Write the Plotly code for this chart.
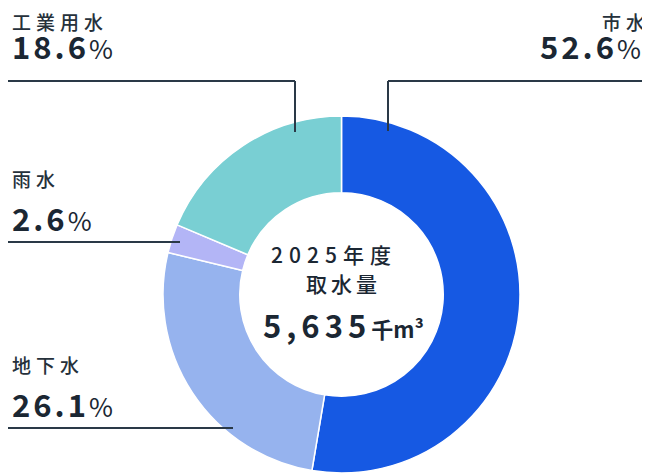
import plotly.graph_objects as go

categories = ["市水", "地下水", "雨水", "工業用水"]
shares = [52.6, 26.1, 2.6, 18.6]
colors = ["#1659e3", "#96b3ee", "#b3b5f6", "#79cfd3"]
center_year = "2025年度"
center_title = "取水量"
total_value = "5,635"
total_unit = "千m³"

# page has an 8px body margin, so the figure is drawn 8px in from the window edge
OFF = 8
W, H = 650 - OFF, 474 - OFF
FONT = "Noto Sans CJK JP"
INK = "#1b2733"

def px(x):
    return (x - OFF) / W

def py(y):
    return 1 - (y - OFF) / H

fig = go.Figure()
fig.add_trace(go.Pie(
    labels=categories,
    values=shares,
    hole=0.57,
    sort=False,
    direction="clockwise",
    rotation=0,
    marker=dict(colors=colors, line=dict(color="white", width=1.5)),
    textinfo="none",
    hoverinfo="label+percent",
    showlegend=False,
    domain=dict(x=[px(163), px(520)], y=[max(0, py(473)), py(116)]),
))

def spaced(s, ls):
    return f"<span style='letter-spacing:{ls}px'>{s[:-1]}</span>{s[-1]}"

def label_block(name, value, x_name, x_val, y_name, y_val):
    fig.add_annotation(
        x=px(x_name), y=py(y_name), xref="paper", yref="paper",
        text=spaced(name, 5), showarrow=False,
        xanchor="left", yanchor="middle", borderpad=0,
        font=dict(family=FONT, size=19, color="#26313b", weight=500),
    )
    fig.add_annotation(
        x=px(x_val), y=py(y_val), xref="paper", yref="paper",
        text=f"<span style='letter-spacing:3px'><b>{value}</b></span><span style='font-size:26px'>%</span>",
        showarrow=False, xanchor="left", yanchor="middle", borderpad=0,
        font=dict(family=FONT, size=31, color=INK),
    )

label_block(categories[3], f"{shares[3]}", 11, 11, 21, 46)
label_block(categories[0], f"{shares[0]}", 601, 539, 21, 46)
label_block(categories[2], f"{shares[2]}", 11, 11, 178, 217)
label_block(categories[1], f"{shares[1]}", 11, 11, 364, 403)

fig.add_annotation(x=px(331), y=py(254), xref="paper", yref="paper",
                   text=spaced(center_year, 6), showarrow=False,
                   xanchor="center", yanchor="middle",
                   font=dict(family=FONT, size=21, color=INK, weight=500))
fig.add_annotation(x=px(342), y=py(283), xref="paper", yref="paper",
                   text=spaced(center_title, 4), showarrow=False,
                   xanchor="center", yanchor="middle",
                   font=dict(family=FONT, size=21, color=INK, weight=500))
fig.add_annotation(x=px(344), y=py(324), xref="paper", yref="paper",
                   text=(f"<span style='letter-spacing:5px'><b>{total_value}</b></span>"
                         f"<span style='font-size:22px'><b>{total_unit}</b></span>"),
                   showarrow=False, xanchor="center", yanchor="middle",
                   font=dict(family=FONT, size=31, color=INK))

line = dict(color="#2a3947", width=2)
def seg(x0, y0, x1, y1):
    fig.add_shape(type="line", xref="paper", yref="paper",
                  x0=px(x0), y0=py(y0), x1=px(x1), y1=py(y1), line=line)

seg(8, 81, 295, 81); seg(295, 81, 295, 132)
seg(388, 81, 650, 81); seg(388, 81, 388, 131)
seg(8, 242, 180, 242)
seg(8, 428, 233, 428)

fig.update_layout(
    width=W, height=H, margin=dict(l=0, r=0, t=0, b=0),
    paper_bgcolor="white", plot_bgcolor="white",
)
fig.write_html("out.html")
